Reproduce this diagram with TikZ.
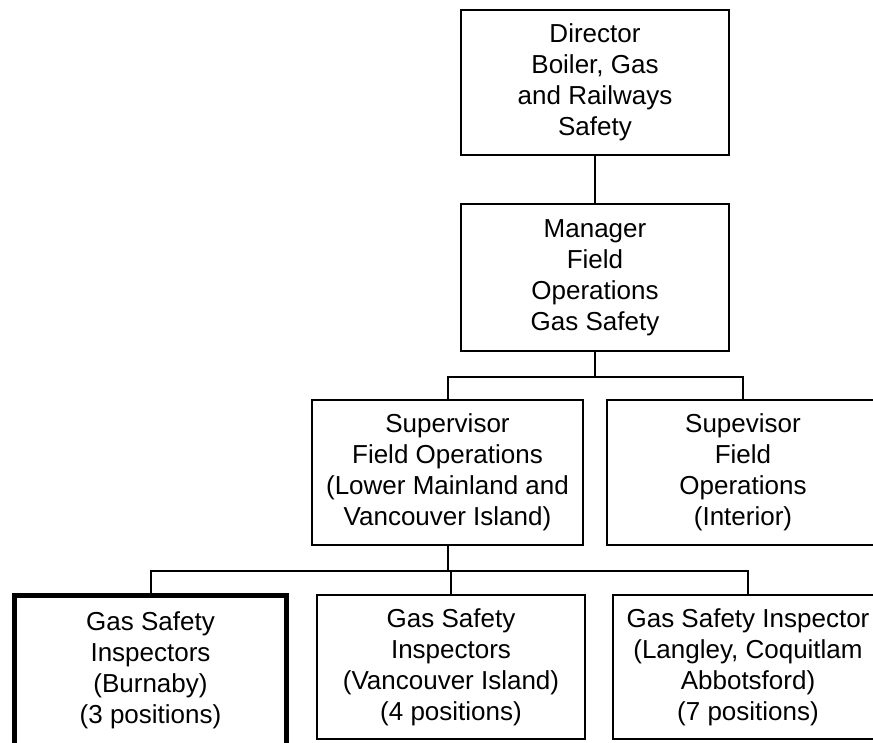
\documentclass[tikz,border=0pt]{standalone}
\usepackage{fontspec}
\setmainfont{Liberation Sans}
\begin{document}
\begin{tikzpicture}[x=1pt,y=-1pt,
  box/.style={draw, line width=2pt, rectangle, inner sep=0pt, align=center,
              font=\fontsize{26}{31}\selectfont},
  bigbox/.style={box, line width=5pt},
  wire/.style={line width=2pt}]
\clip (0,0) rectangle (873,743);
\fill[white] (0,0) rectangle (873,743);
% top
\node[box, minimum width=268pt, minimum height=145pt] (dir) at (595,82.5)
  {Director\\Boiler, Gas\\and Railways\\Safety};
\node[box, minimum width=268pt, minimum height=147pt] (mgr) at (595,277.5)
  {Manager\\Field\\Operations\\Gas Safety};
% supervisors
\node[box, minimum width=271pt, minimum height=145pt] (supL) at (447.5,472.5)
  {Supervisor\\Field Operations\\(Lower Mainland and\\Vancouver Island)};
\node[box, minimum width=272pt, minimum height=145pt] (supR) at (743,472.5)
  {Supevisor\\Field\\Operations\\(Interior)};
% inspectors
\node[bigbox, minimum width=272pt, minimum height=150pt] (insA) at (150.5,670)
  {Gas Safety\\Inspectors\\(Burnaby)\\(3 positions)};
\node[box, minimum width=268pt, minimum height=144pt] (insB) at (451,667)
  {Gas Safety\\Inspectors\\(Vancouver Island)\\(4 positions)};
\node[box, minimum width=270pt, minimum height=144pt] (insC) at (748,667)
  {Gas Safety Inspector\\(Langley, Coquitlam\\Abbotsford)\\(7 positions)};
% connectors
\coordinate (j1) at (595,377);
\coordinate (j2) at (447.5,571);
\draw[wire] (dir.south) -- (mgr.north);
\draw[wire] (mgr.south) -- (j1);
\draw[wire] (supL.north) |- (j1) -| (supR.north);
\draw[wire] (supL.south) -- (j2);
\draw[wire] (insA.north) |- (j2) -| (insC.north);
\draw[wire] (j2 -| insB.north) -- (insB.north);
\end{tikzpicture}
\end{document}
